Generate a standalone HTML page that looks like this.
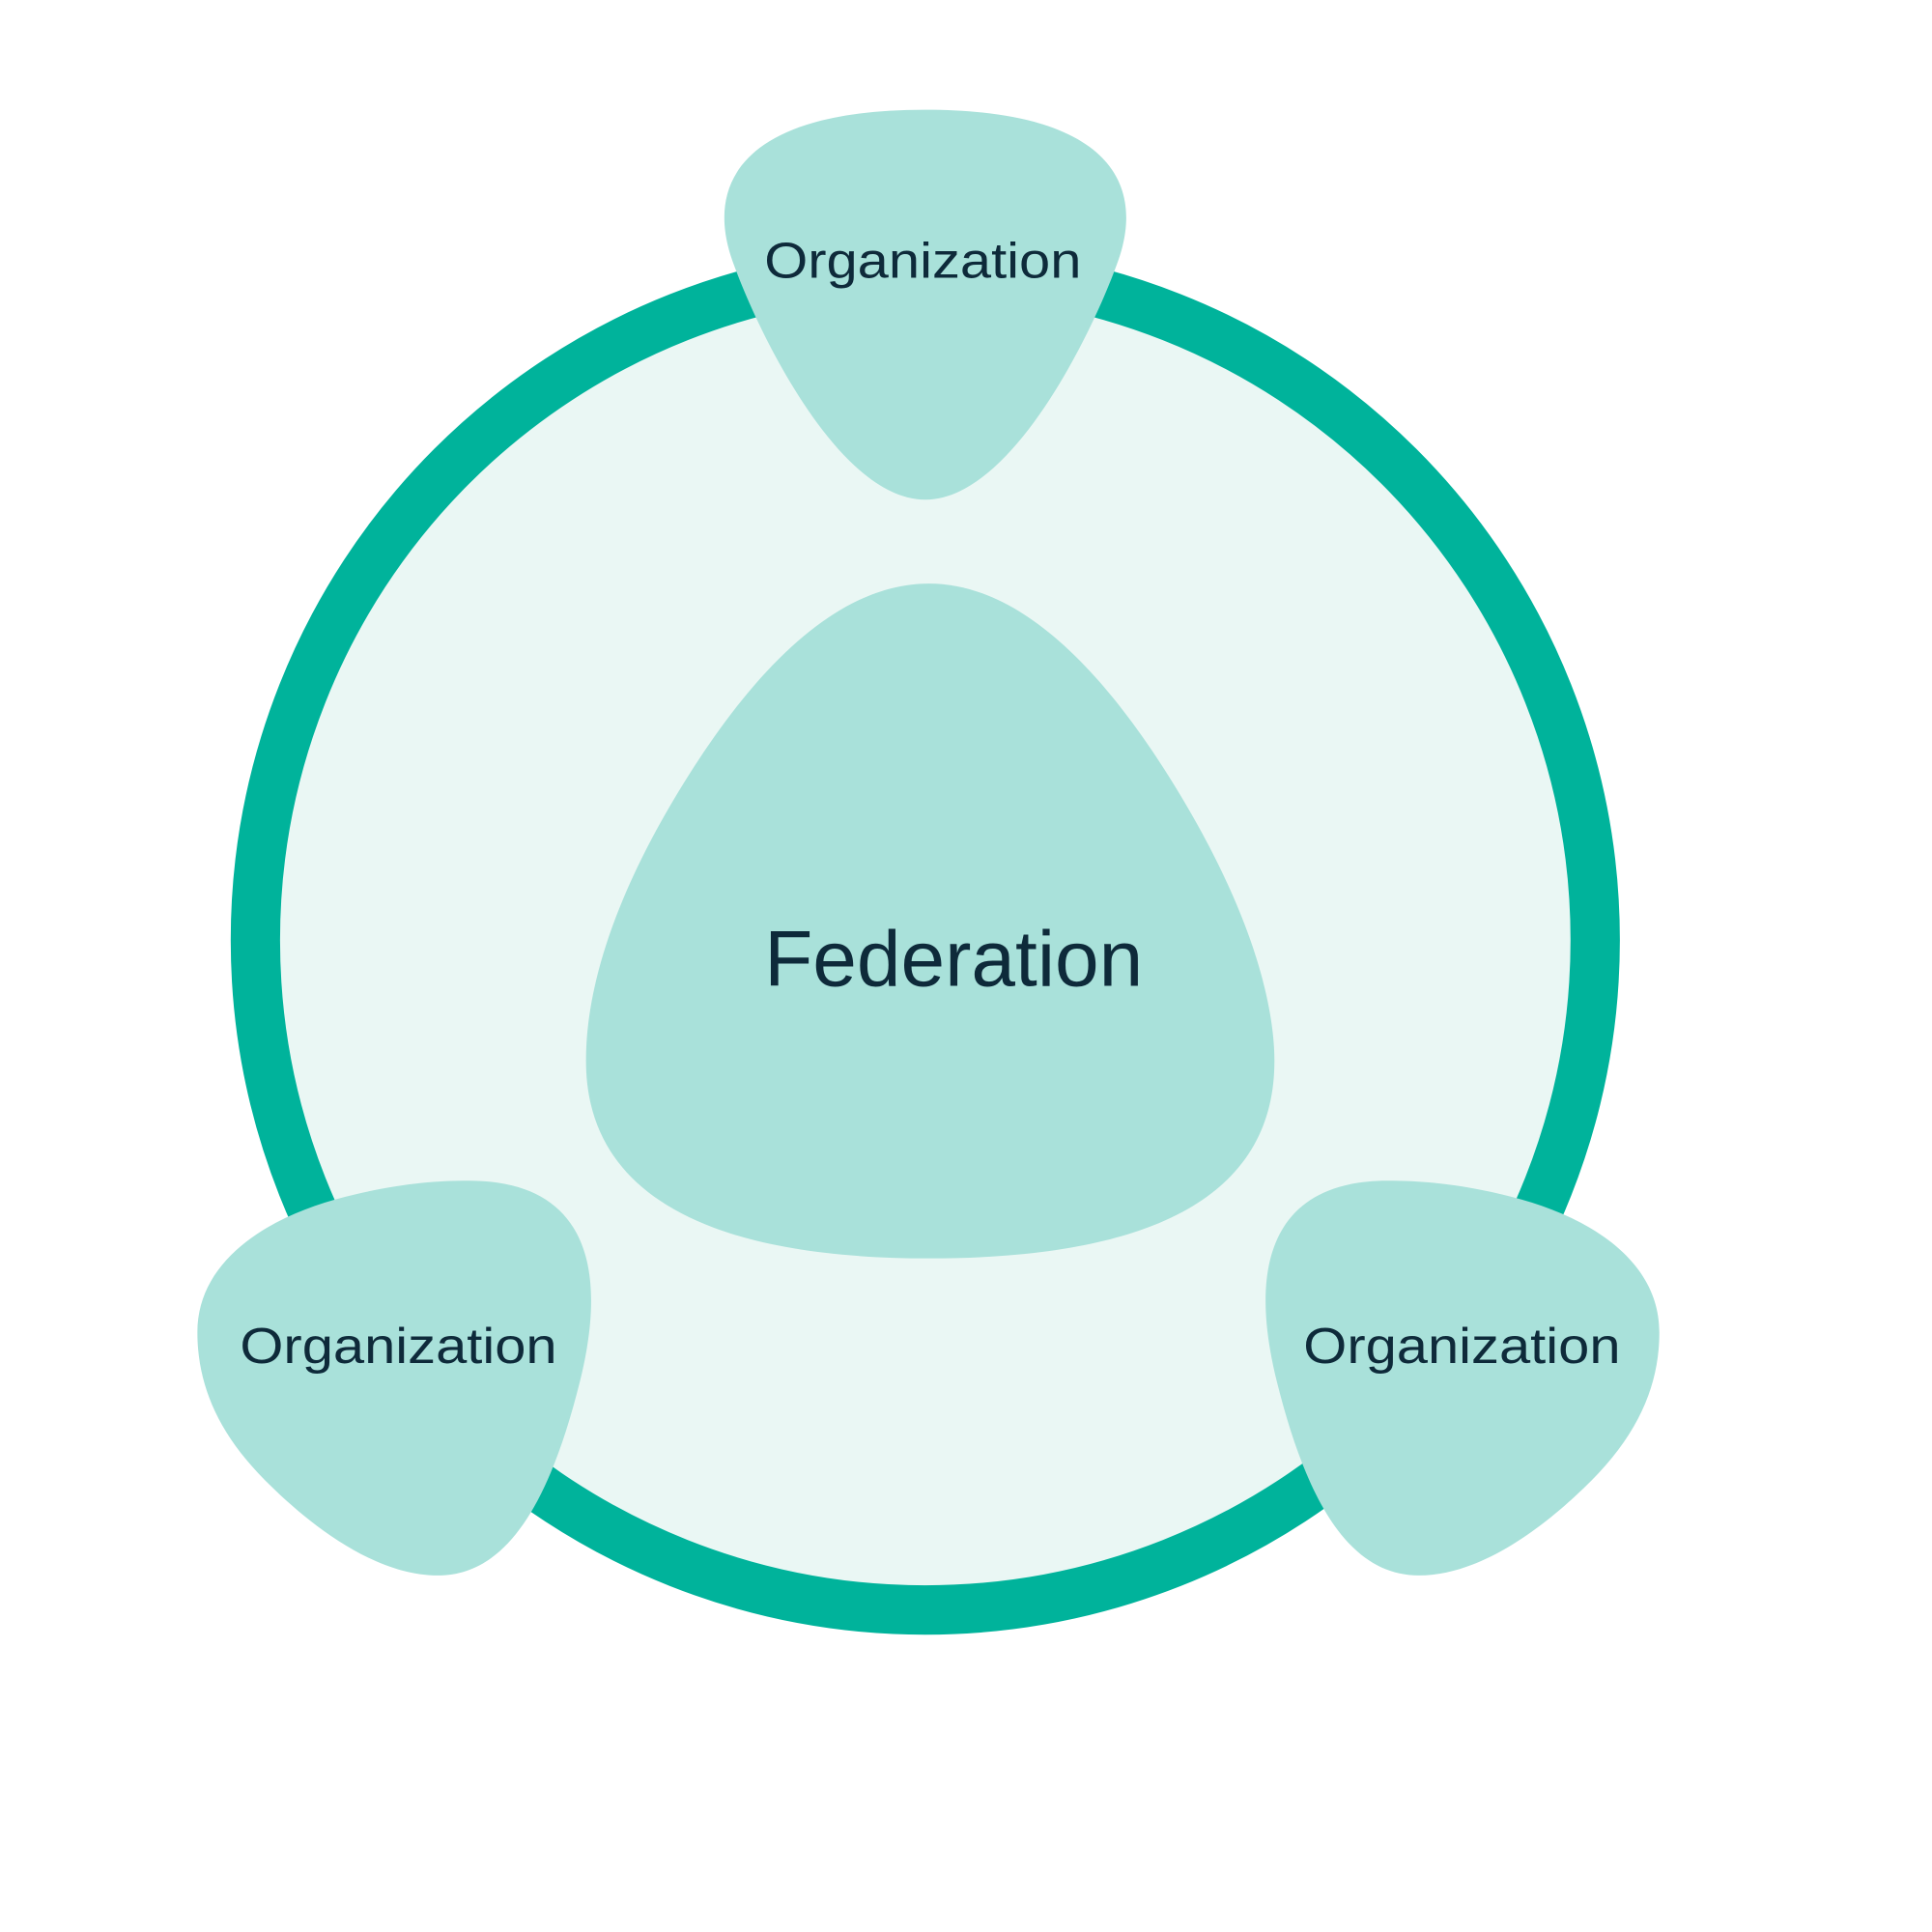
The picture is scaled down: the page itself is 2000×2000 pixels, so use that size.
<!DOCTYPE html>
<html><head><meta charset="utf-8"><style>html,body{margin:0;padding:0;background:#fff}svg{display:block}</style></head>
<body>
<svg width="2000" height="2000" viewBox="0 0 1566 1566" xmlns="http://www.w3.org/2000/svg">
<rect width="1566" height="1566" fill="#fff"/>
<circle cx="750" cy="762" r="543" fill="#EAF7F4" stroke="#00B39B" stroke-width="40"/>
<g fill="#A9E1DA">
<path d="M750,89 C600,89 570,150 595,215 C615,270 680,405 750,405 C820,405 885,270 905,215 C930,150 900,89 750,89Z"/>
<path d="M753,473 C680,473 610,540 545,650 C480,760 475,830 475,860 C475,960 560,1020 753,1020 C950,1020 1033,960 1033,860 C1033,830 1025,760 960,650 C895,540 825,473 753,473Z"/>
<path d="M380,957 C470,957 495,1020 470,1120 C445,1220 410,1277 355,1277 C300,1277 245,1230 215,1200 C175,1160 160,1120 160,1080 C160,1020 220,985 280,970 C320,960 350,957 380,957Z"/>
<path transform="translate(1505,0) scale(-1,1)" d="M380,957 C470,957 495,1020 470,1120 C445,1220 410,1277 355,1277 C300,1277 245,1230 215,1200 C175,1160 160,1120 160,1080 C160,1020 220,985 280,970 C320,960 350,957 380,957Z"/>
</g>
<g fill="#0E2A3A" font-family="Liberation Sans, sans-serif" text-anchor="middle">
<text x="748" y="225" font-size="41" textLength="257" lengthAdjust="spacingAndGlyphs">Organization</text>
<text x="323" y="1105" font-size="41" textLength="257" lengthAdjust="spacingAndGlyphs">Organization</text>
<text x="1185" y="1105" font-size="41" textLength="257" lengthAdjust="spacingAndGlyphs">Organization</text>
<text x="773" y="799" font-size="64" textLength="307" lengthAdjust="spacingAndGlyphs">Federation</text>
</g>
</svg>
</body></html>
